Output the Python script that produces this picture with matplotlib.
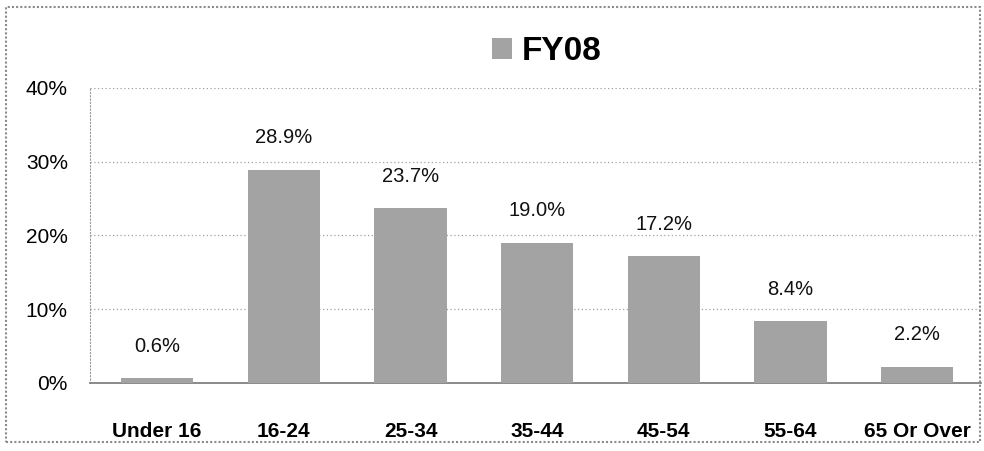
import numpy as np
import matplotlib.pyplot as plt
from matplotlib.patches import Rectangle

plt.rcParams['font.family'] = ['Liberation Sans', 'DejaVu Sans']

# data
categories = ['Under 16', '16-24', '25-34', '35-44', '45-54', '55-64', '65 Or Over']
values = [0.6, 28.9, 23.7, 19.0, 17.2, 8.4, 2.2]
series_name = 'FY08'
yticks = [0, 10, 20, 30, 40]

fig = plt.figure(figsize=(9.84, 4.51), dpi=100)
ax = fig.add_axes([0.0915, 0.151, 0.905, 0.654])

x = np.arange(len(categories))
bars = ax.bar(x, values, width=0.57, color='#a3a3a3', label=series_name, zorder=3)

# value labels above the bars
for xi, v in zip(x, values):
    ax.annotate(f'{v:.1f}%', (xi, v), xytext=(0, 23), textcoords='offset points',
                ha='center', va='center', fontsize=14.5, color='#111111')

ax.set_xlim(-0.53, 6.5)
ax.set_ylim(0, 40)
ax.set_yticks(yticks)
ax.set_yticklabels([f'{t}%' for t in yticks], fontsize=15)
ax.set_xticks(x)
ax.set_xticklabels(categories, fontsize=15, fontweight='bold')
ax.tick_params(axis='x', length=0, pad=28)
ax.tick_params(axis='y', length=0, pad=16)

# dotted gridlines and axes
ax.grid(axis='y', linestyle=(0, (1, 2)), color='#a0a0a0', linewidth=0.9, zorder=0)
for s in ['top', 'right']:
    ax.spines[s].set_visible(False)
ax.spines['left'].set_linestyle((0, (1, 2)))
ax.spines['left'].set_color('#999999')
ax.spines['bottom'].set_color('#777777')
ax.spines['bottom'].set_linewidth(1.2)

# legend as the title
fig.legend(handles=[bars], labels=[series_name], loc='center', bbox_to_anchor=(0.556, 0.885),
           frameon=False, handlelength=0.6, handleheight=0.6, handletextpad=0.3,
           prop={'size': 24, 'weight': 'bold'})

# dotted outer border
fig.patches.append(Rectangle((0.006, 0.02), 0.99, 0.965, transform=fig.transFigure,
                             fill=False, edgecolor='#8a8a8a', linewidth=1.5,
                             linestyle=(0, (1, 1))))

fig.savefig('out.png', dpi=100)
